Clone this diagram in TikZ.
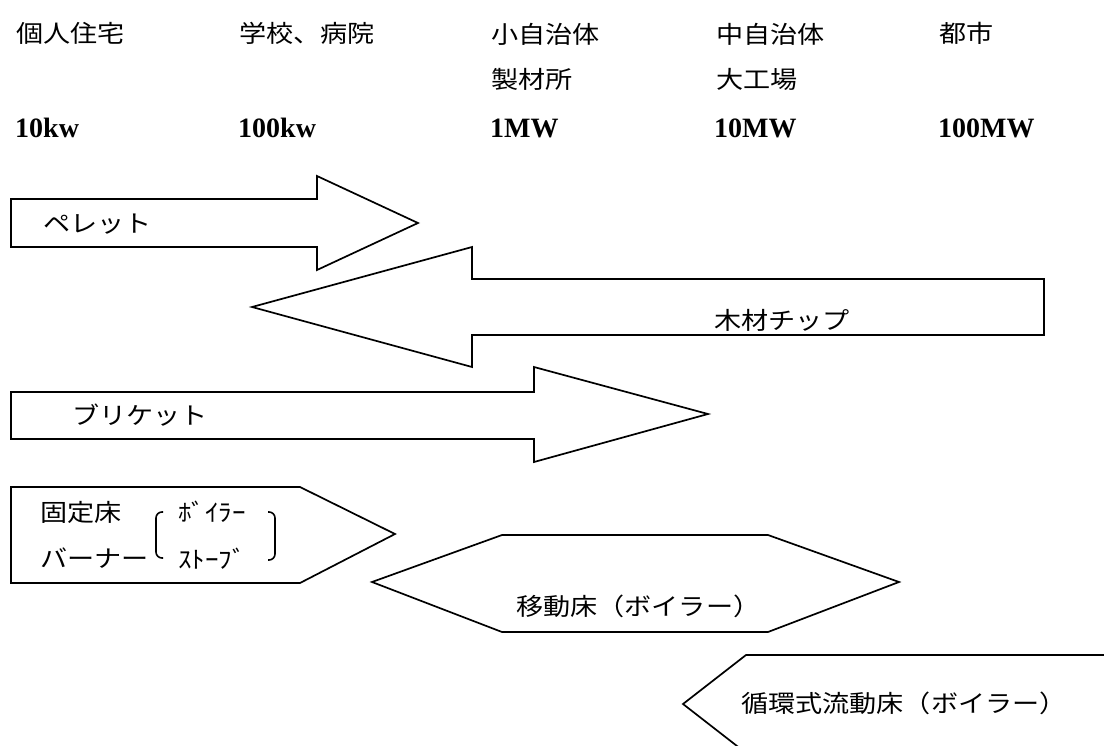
\documentclass[tikz,border=0pt]{standalone}
\usepackage{fontspec}
\newfontfamily\jp[FakeStretch=1.13]{Noto Sans CJK JP}
\newfontfamily\num{Liberation Serif}
\begin{document}
\begin{tikzpicture}[x=1pt,y=-1pt,
  outline/.style={draw, line width=1.7pt, line join=miter},
  jlbl/.style={font=\jp\fontsize{24}{24}\selectfont, inner sep=0pt, anchor=west},
  nlbl/.style={font=\num\bfseries\fontsize{28}{28}\selectfont, inner sep=0pt, anchor=base west},
  hw/.style={font=\jp\fontsize{24}{24}\selectfont, inner sep=0pt, anchor=west},
  brk/.style={draw, line width=1.6pt, rounded corners=6pt}]
\useasboundingbox (0,0) rectangle (1104,745);
\clip (0,0) rectangle (1104,745);

% header row 1
\node[jlbl] (h1) at (16,33) {個人住宅};
\node[jlbl] (h2) at (239,33) {学校、病院};
\node[jlbl] (h3) at (491,34) {小自治体};
\node[jlbl] (h4) at (716,34) {中自治体};
\node[jlbl] (h5) at (939,33) {都市};
% header row 2
\node[jlbl] (h3b) at (491,79) {製材所};
\node[jlbl] (h4b) at (716,79) {大工場};
% header row 3
\node[nlbl] (p1) at (15,137) {10kw};
\node[nlbl] (p2) at (238,137) {100kw};
\node[nlbl] (p3) at (490,137) {1MW};
\node[nlbl] (p4) at (714,137) {10MW};
\node[nlbl] (p5) at (938,137) {100MW};

% pellet arrow
\draw[outline] (11,199) -- (317,199) -- (317,176) -- (418,223) -- (317,270) -- (317,247) -- (11,247) -- cycle;
\node[jlbl] (pellet) at (43,224) {ペレット};

% wood chip arrow
\draw[outline] (1044,279) -- (472,279) -- (472,247) -- (252,307) -- (472,367) -- (472,335) -- (1044,335) -- cycle;
\node[jlbl] (chip) at (714,320) {木材チップ};

% briquette arrow
\draw[outline] (11,392) -- (534,392) -- (534,367) -- (708,414) -- (534,462) -- (534,439) -- (11,439) -- cycle;
\node[jlbl] (briq) at (72,415) {ブリケット};

% fixed bed
\draw[outline] (11,487) -- (300,487) -- (395,534) -- (300,583) -- (11,583) -- cycle;
\node[jlbl] (fixed) at (40,512) {固定床};
\node[jlbl] (burner) at (40,558) {バーナー};
\draw[brk] (163,512) -- (156,512) -- (156,558) -- (163,558);
\draw[brk] (268,512) -- (275,512) -- (275,560) -- (268,560);
\node[hw] (boiler) at (178,512) {ﾎﾞｲﾗｰ};
\node[hw] (stove) at (178,559) {ｽﾄｰﾌﾞ};

% moving bed
\draw[outline] (372,582) -- (502,535) -- (768,535) -- (899,582) -- (768,632) -- (502,632) -- cycle;
\node[jlbl] (moving) at (516,606) {移動床（ボイラー）};

% circulating fluidized bed
\draw[outline] (1112,655) -- (746,655) -- (683,704) -- (746,753);
\node[jlbl] (circ) at (741,703) {循環式流動床（ボイラー）};
\end{tikzpicture}
\end{document}
